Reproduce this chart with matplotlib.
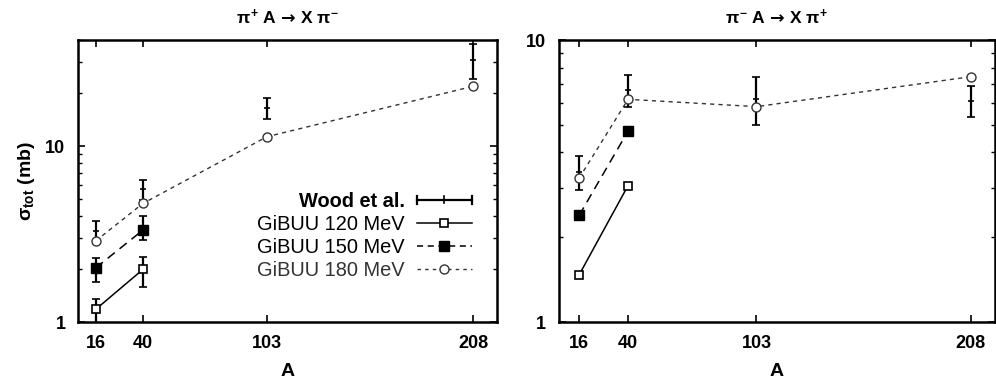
import matplotlib
matplotlib.use('Agg')
import matplotlib.pyplot as plt
from matplotlib.lines import Line2D
from matplotlib.legend_handler import HandlerBase
from matplotlib.ticker import FixedLocator, NullFormatter, LogLocator

plt.rcParams['font.family'] = ['Liberation Sans', 'DejaVu Sans']
plt.rcParams['mathtext.fontset'] = 'custom'
plt.rcParams['mathtext.rm'] = 'Liberation Sans:bold'
plt.rcParams['mathtext.it'] = 'Liberation Sans:bold'
plt.rcParams['mathtext.bf'] = 'Liberation Sans:bold'
plt.rcParams['mathtext.sf'] = 'DejaVu Sans:bold'

A = [16, 40, 103, 208]
A_low = [16, 40]

# pi+ A -> X pi-
left_120 = [1.18, 1.99]
left_150 = [2.03, 3.33]
left_180 = [2.89, 4.72, 11.3, 21.9]
wood_left_120 = [1.17, 1.97]
wood_left_120_err = [0.19, 0.38]
wood_left_150 = [2.0, 3.47]
wood_left_150_err = [0.32, 0.55]
wood_left_180 = [3.3, 5.7, 16.5, 31.0]
wood_left_180_err = [0.45, 0.75, 2.2, 7.0]

# pi- A -> X pi+
right_120 = [1.47, 3.05]
right_150 = [2.39, 4.76]
right_180 = [3.24, 6.17, 5.81, 7.42]
wood_right = [3.42, 6.65, 6.2, 6.1]
wood_right_err = [0.47, 0.85, 1.2, 0.77]

GREY = '#333333'


class WoodHandler(HandlerBase):
    def create_artists(self, legend, orig_handle, xdescent, ydescent,
                       width, height, fontsize, trans):
        y = height / 2 - ydescent
        x0, x1 = -xdescent, width - xdescent
        h = 3
        arts = [Line2D([x0, x1], [y, y], color='k', lw=1.6),
                Line2D([x0, x0], [y - h, y + h], color='k', lw=1.6),
                Line2D([x1, x1], [y - h, y + h], color='k', lw=1.6),
                Line2D([(x0 + x1) / 2] * 2, [y - 2.5, y + 2.5], color='k', lw=1.2)]
        for a in arts:
            a.set_transform(trans)
        return arts


def wood(ax, x, y, err):
    ax.errorbar(x, y, yerr=err, fmt='+', color='k', ms=5, mew=1.2,
                elinewidth=1.6, capsize=2.8, capthick=1.6, zorder=3)


def style(ax, ylim):
    ax.set_yscale('log')
    ax.set_ylim(*ylim)
    ax.set_xticks(A)
    ax.set_xticklabels([str(a) for a in A], fontweight='bold', fontsize=13)
    ax.yaxis.set_major_locator(FixedLocator([1, 10]))
    ax.set_yticklabels(['1', '10'], fontweight='bold', fontsize=13)
    ax.yaxis.set_minor_locator(LogLocator(subs=range(2, 10)))
    ax.yaxis.set_minor_formatter(NullFormatter())
    ax.tick_params(which='both', direction='in', right=True, top=True)
    ax.tick_params(which='major', length=5, width=1.2)
    ax.tick_params(which='minor', length=3, width=1.0)
    ax.tick_params(axis='x', pad=9)
    ax.tick_params(axis='y', pad=9)
    for s in ax.spines.values():
        s.set_linewidth(1.8)
    ax.set_xlabel('A', fontweight='bold', fontsize=14, labelpad=8)


def models(ax, y120, y150, y180):
    ax.plot(A_low, y120, '-', color='k', lw=1.1, marker='s', ms=6,
            mfc='white', mec='k', mew=1.2, zorder=4)
    ax.plot(A_low, y150, '--', color='k', lw=1.1, dashes=(6, 4), marker='s',
            ms=7.5, mfc='k', mec='k', zorder=4)
    ax.plot(A, y180, '--', color=GREY, lw=1.0, dashes=(3, 3), marker='o',
            ms=6.5, mfc='white', mec=GREY, mew=1.0, zorder=4)


fig = plt.figure(figsize=(9.96, 3.85), dpi=100)
ax1 = fig.add_axes([0.0783, 0.1636, 0.4207, 0.732])
ax2 = fig.add_axes([0.561, 0.1636, 0.438, 0.732])

# left panel
wood(ax1, A_low, wood_left_120, wood_left_120_err)
wood(ax1, A_low, wood_left_150, wood_left_150_err)
wood(ax1, A, wood_left_180, wood_left_180_err)
models(ax1, left_120, left_150, left_180)
style(ax1, (1, 40))
ax1.set_xlim(7, 220)
ax1.set_ylabel(r'$\sigma_{tot}$ (mb)', fontweight='bold', fontsize=14, labelpad=6)
ax1.set_title(r'$\pi^{+}$ A $\!\mathsf{\rightarrow}\!$ X $\pi^{-}$', fontweight='bold',
              fontsize=12.5, pad=12)

h_w = Line2D([], [], color='k')
h_120 = Line2D([], [], color='k', lw=1.1, marker='s', ms=6, mfc='white', mew=1.2)
h_150 = Line2D([], [], color='k', lw=1.1, ls='--', dashes=(4, 3), marker='s', ms=7.5, mfc='k')
h_180 = Line2D([], [], color=GREY, lw=1.0, ls='--', dashes=(2.5, 3), marker='o',
               ms=6.5, mfc='white', mew=1.0)
leg = ax1.legend([h_w, h_120, h_150, h_180],
                 ['Wood et al.', 'GiBUU 120 MeV', 'GiBUU 150 MeV', 'GiBUU 180 MeV'],
                 handler_map={h_w: WoodHandler()}, markerfirst=False, frameon=False,
                 loc='upper left', bbox_to_anchor=(0.428, 0.462), fontsize=14.4,
                 handlelength=2.75, handletextpad=0.6, labelspacing=0.2,
                 borderaxespad=0, borderpad=0)
texts = leg.get_texts()
texts[0].set_fontweight('bold')
texts[3].set_color(GREY)
leg._legend_box.align = 'right'
for t in texts:
    t.set_horizontalalignment('right')

# right panel
wood(ax2, A, wood_right, wood_right_err)
models(ax2, right_120, right_150, right_180)
style(ax2, (1, 10))
ax2.set_xlim(6, 220)
ax2.set_title(r'$\pi^{-}$ A $\!\mathsf{\rightarrow}\!$ X $\pi^{+}$', fontweight='bold',
              fontsize=12.5, pad=12)

fig.savefig('out.png', dpi=100)
